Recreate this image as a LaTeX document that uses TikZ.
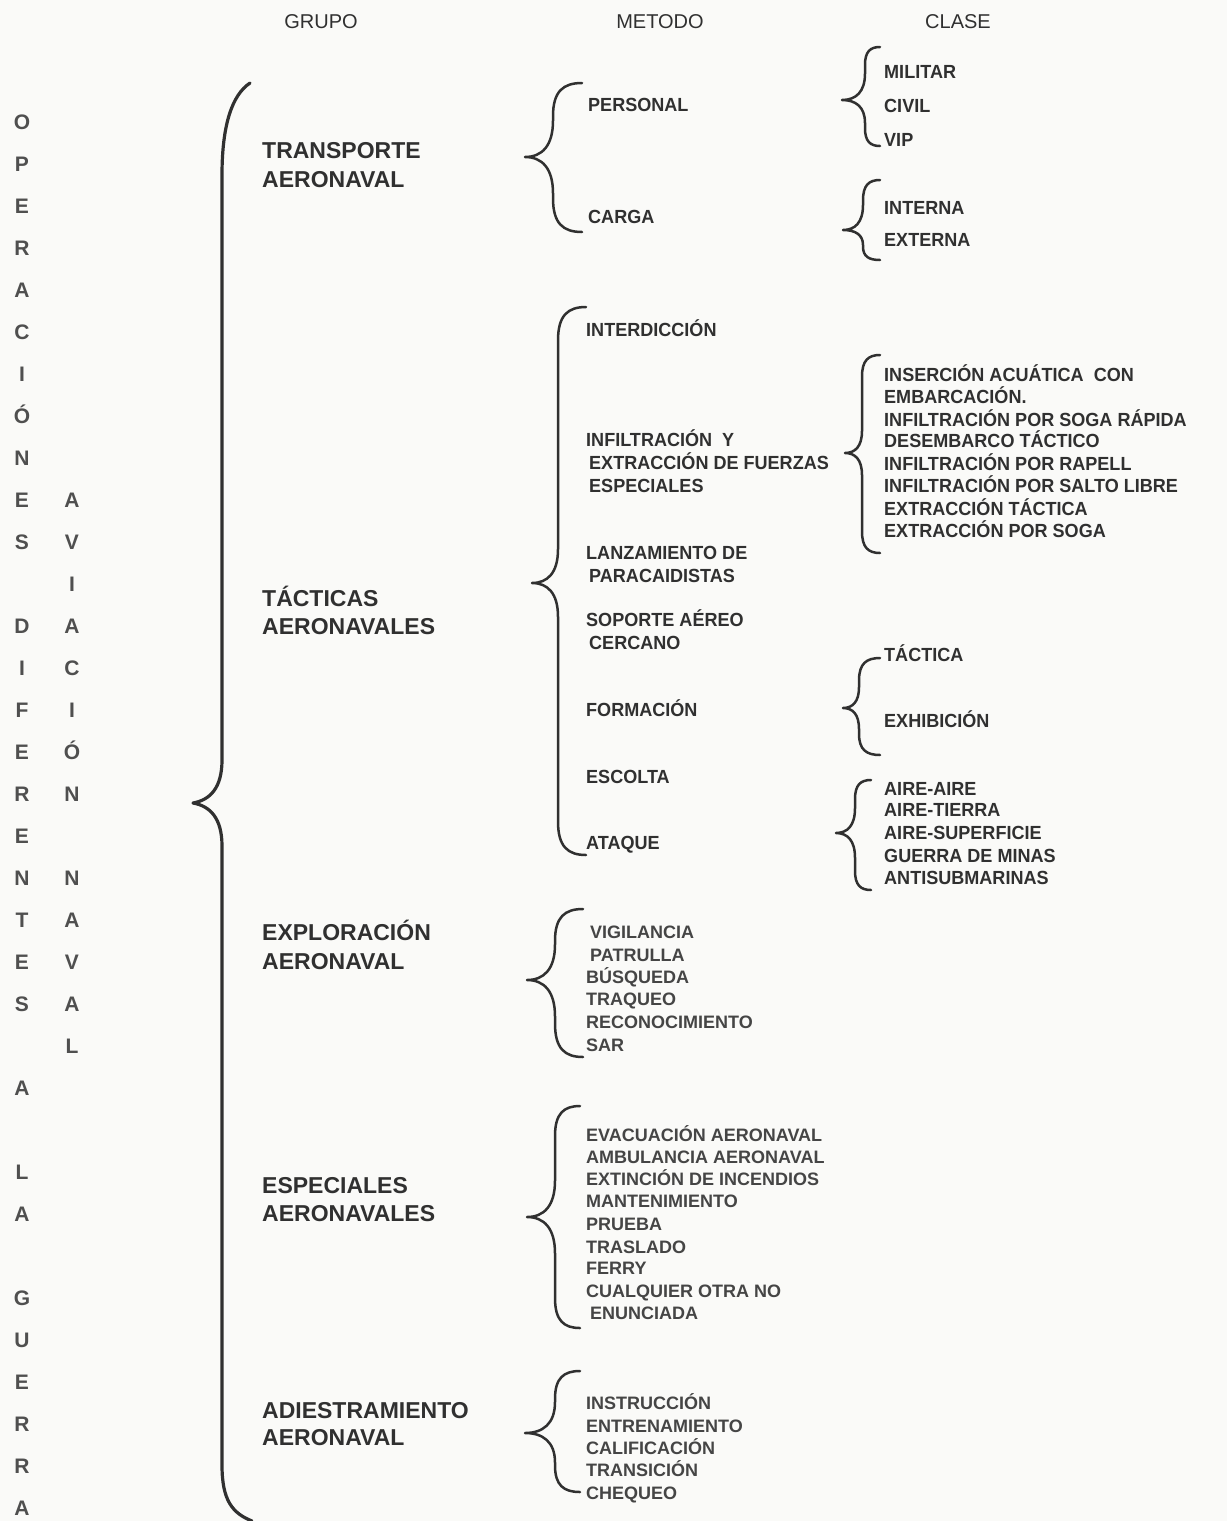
\documentclass[tikz,border=0pt]{standalone}
\usepackage{fontspec}
\setmainfont{Liberation Sans}
\newfontfamily\narrowf[FakeStretch=0.95]{Liberation Sans}
\definecolor{ink}{RGB}{48,48,48}
\definecolor{paper}{RGB}{250,250,248}
\newcommand{\mybrace}[6]{%
 \draw[brace] (#1,#4) .. controls ({#2+0.35*(#1-#2)},#4) and (#2,{#4+0.25*min(1.2*(#1-#2),0.45*(#5-#4))}) .. (#2,{#4+min(1.2*(#1-#2),0.45*(#5-#4))})
  -- (#2,{#5-min(1.3*(#2-#3),0.5*(#5-#4))}) .. controls (#2,{#5-0.3*min(1.3*(#2-#3),0.5*(#5-#4))}) and ({#2-0.4*(#2-#3)},#5) .. (#3,#5)
  .. controls ({#2-0.4*(#2-#3)},#5) and (#2,{#5+0.3*min(1.3*(#2-#3),0.5*(#6-#5))}) .. (#2,{#5+min(1.3*(#2-#3),0.5*(#6-#5))})
  -- (#2,{#6-min(1.2*(#1-#2),0.45*(#6-#5))}) .. controls (#2,{#6-0.25*min(1.2*(#1-#2),0.45*(#6-#5))}) and ({#2+0.35*(#1-#2)},#6) .. (#1,#6);}
\tikzset{
 lbl/.style={inner sep=0pt, anchor=west, text height=13.5pt, text depth=0pt, text=ink,
   font=\narrowf\bfseries\fontsize{19}{22}\selectfont},
 wlbl/.style={inner sep=0pt, anchor=west, text height=13pt, text depth=0pt, text=ink!90,
   font=\bfseries\fontsize{18}{22}\selectfont},
 grp/.style={inner sep=0pt, anchor=west, text height=16.5pt, text depth=0pt, text=ink,
   font=\bfseries\fontsize{23}{28}\selectfont},
 hdr/.style={inner sep=0pt, anchor=center, text height=14pt, text depth=0pt, text=ink,
   font=\fontsize{20}{24}\selectfont},
 vlet/.style={inner sep=0pt, anchor=center, text height=15pt, text depth=0pt, text=ink!85,
   font=\bfseries\fontsize{21}{24}\selectfont},
 brace/.style={draw=ink, line width=2.5pt, line cap=round, line join=round},
}
\begin{document}
\begin{tikzpicture}[x=1pt,y=-1pt]
\fill[paper] (0,0) rectangle (1227,1521);
\useasboundingbox (0,0) rectangle (1227,1521);
% vertical titles
\foreach \l [count=\i from 0] in {O,P,E,R,A,C,I,Ó,N,E,S,{},D,I,F,E,R,E,N,T,E,S,{},A,{},L,A,{},G,U,E,R,R,A}
  \node[vlet] (va\i) at (22,{122+42*\i}) {\l};
\foreach \l [count=\i from 9] in {A,V,I,A,C,I,Ó,N,{},N,A,V,A,L}
  \node[vlet] (vb\i) at (72,{122+42*\i}) {\l};
% headers
\node[hdr] (hg) at (321,21) {GRUPO};
\node[hdr] (hm) at (660,21) {METODO};
\node[hdr] (hc) at (958,21) {CLASE};
% big brace
\draw[brace, line width=3.2pt] (250,83) .. controls (232,95) and (222,125) .. (222,175) -- (222,760)
  .. controls (222,788) and (210,800) .. (193,803) .. controls (210,806) and (222,818) .. (222,846)
  -- (222,1465) .. controls (222,1500) and (232,1513) .. (252,1521);
% groups
\node[grp] (g1a) at (262,150) {TRANSPORTE};
\node[grp] (g1b) at (262,179) {AERONAVAL};
\node[grp] (g2a) at (262,598) {TÁCTICAS};
\node[grp] (g2b) at (262,626) {AERONAVALES};
\node[grp] (g3a) at (262,932) {EXPLORACIÓN};
\node[grp] (g3b) at (262,961) {AERONAVAL};
\node[grp] (g4a) at (262,1185) {ESPECIALES};
\node[grp] (g4b) at (262,1213) {AERONAVALES};
\node[grp] (g5a) at (262,1410) {ADIESTRAMIENTO};
\node[grp] (g5b) at (262,1437) {AERONAVAL};
% transporte
\mybrace{582}{553}{525}{83}{157}{232}
\node[lbl] (m11) at (588,105) {PERSONAL};
\node[lbl] (m12) at (588,217) {CARGA};
\mybrace{880}{865}{842}{47}{100}{146}
\node[lbl] (c11) at (884,72) {MILITAR};
\node[lbl] (c12) at (884,106) {CIVIL};
\node[lbl] (c13) at (884,140) {VIP};
\mybrace{880}{863}{843}{180}{230}{260}
\node[lbl] (c21) at (884,208) {INTERNA};
\node[lbl] (c22) at (884,240) {EXTERNA};
% tacticas
\mybrace{586}{558}{532}{307}{583}{855}
\node[lbl] (m21) at (586,330) {INTERDICCIÓN};
\node[lbl] (m22a) at (586,440) {INFILTRACIÓN\ \ Y};
\node[lbl] (m22b) at (589,463) {EXTRACCIÓN DE FUERZAS};
\node[lbl] (m22c) at (589,486) {ESPECIALES};
\node[lbl] (m23a) at (586,553) {LANZAMIENTO DE};
\node[lbl] (m23b) at (589,576) {PARACAIDISTAS};
\node[lbl] (m24a) at (586,620) {SOPORTE AÉREO};
\node[lbl] (m24b) at (589,643) {CERCANO};
\node[lbl] (m25) at (586,710) {FORMACIÓN};
\node[lbl] (m26) at (586,777) {ESCOLTA};
\node[lbl] (m27) at (586,843) {ATAQUE};
\mybrace{880}{862}{845}{355}{453}{553}
\node[lbl] (c31) at (884,375) {INSERCIÓN ACUÁTICA\ \ CON};
\node[lbl] (c32) at (884,397) {EMBARCACIÓN.};
\node[lbl] (c33) at (884,420) {INFILTRACIÓN POR SOGA RÁPIDA};
\node[lbl] (c34) at (884,441) {DESEMBARCO TÁCTICO};
\node[lbl] (c35) at (884,464) {INFILTRACIÓN POR RAPELL};
\node[lbl] (c36) at (884,486) {INFILTRACIÓN POR SALTO LIBRE};
\node[lbl] (c37) at (884,509) {EXTRACCIÓN TÁCTICA};
\node[lbl] (c38) at (884,531) {EXTRACCIÓN POR SOGA};
\mybrace{880}{859}{843}{658}{708}{755}
\node[lbl] (c41) at (884,655) {TÁCTICA};
\node[lbl] (c42) at (884,721) {EXHIBICIÓN};
\mybrace{871}{855}{836}{780}{833}{890}
\node[lbl] (c51) at (884,789) {AIRE-AIRE};
\node[lbl] (c52) at (884,810) {AIRE-TIERRA};
\node[lbl] (c53) at (884,833) {AIRE-SUPERFICIE};
\node[lbl] (c54) at (884,856) {GUERRA DE MINAS};
\node[lbl] (c55) at (884,878) {ANTISUBMARINAS};
% exploracion
\mybrace{583}{555}{527}{909}{980}{1057}
\node[wlbl] (e1) at (590,932) {VIGILANCIA};
\node[wlbl] (e2) at (590,955) {PATRULLA};
\node[wlbl] (e3) at (586,977) {BÚSQUEDA};
\node[wlbl] (e4) at (586,999) {TRAQUEO};
\node[wlbl] (e5) at (586,1022) {RECONOCIMIENTO};
\node[wlbl] (e6) at (586,1045) {SAR};
% especiales
\mybrace{580}{555}{527}{1106}{1217}{1328}
\node[wlbl] (s1) at (586,1135) {EVACUACIÓN AERONAVAL};
\node[wlbl] (s2) at (586,1157) {AMBULANCIA\ AERONAVAL};
\node[wlbl] (s3) at (586,1179) {EXTINCIÓN DE INCENDIOS};
\node[wlbl] (s4) at (586,1201) {MANTENIMIENTO};
\node[wlbl] (s5) at (586,1224) {PRUEBA};
\node[wlbl] (s6) at (586,1247) {TRASLADO};
\node[wlbl] (s7) at (586,1268) {FERRY};
\node[wlbl] (s8) at (586,1291) {CUALQUIER OTRA NO};
\node[wlbl] (s9) at (590,1313) {ENUNCIADA};
% adiestramiento
\mybrace{580}{555}{525}{1371}{1433}{1492}
\node[wlbl] (a1) at (586,1403) {INSTRUCCIÓN};
\node[wlbl] (a2) at (586,1426) {ENTRENAMIENTO};
\node[wlbl] (a3) at (586,1448) {CALIFICACIÓN};
\node[wlbl] (a4) at (586,1470) {TRANSICIÓN};
\node[wlbl] (a5) at (586,1493) {CHEQUEO};
\end{tikzpicture}
\end{document}
